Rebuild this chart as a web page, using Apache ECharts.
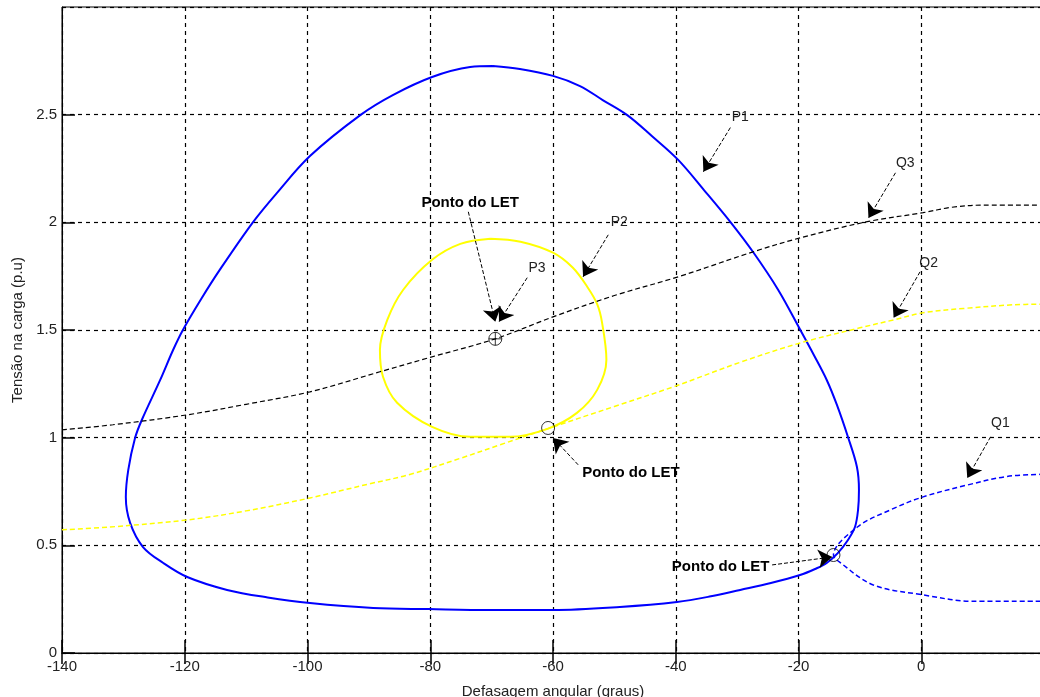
<!DOCTYPE html>
<html>
<head>
<meta charset="utf-8">
<script src="https://cdn.jsdelivr.net/npm/echarts@6/dist/echarts.min.js"></script>
<style>
  html, body { margin: 0; padding: 0; background: #fff; }
  #chart { width: 1040px; height: 697px; }
</style>
</head>
<body>
<div id="chart"></div>
<script>
// Axis ranges and ticks
const xMin = -140, xMax = 20, xStep = 20;
const yMin = 0, yMax = 3, yStep = 0.5;

// P-curves (closed loops): [angle (graus), tensão (p.u)]
const curveP1 = [
  [-69.8, 2.726], [-65.4, 2.712], [-60.0, 2.680], [-55.6, 2.633], [-51.9, 2.568], [-47.9, 2.498],
  [-43.9, 2.401], [-39.6, 2.290], [-35.4, 2.150], [-31.05, 2.000], [-27.4, 1.862], [-23.3, 1.686],
  [-19.7, 1.500], [-17.5, 1.384], [-15.4, 1.268], [-13.74, 1.152], [-11.94, 1.003],
  [-10.48, 0.864], [-10.15, 0.757], [-10.3, 0.664], [-10.8, 0.585], [-11.94, 0.525], [-13.6, 0.464],
  [-15.4, 0.418], [-17.3, 0.390], [-19.75, 0.362], [-24.5, 0.325], [-29.5, 0.293], [-34.5, 0.262],
  [-39.8, 0.237], [-49.1, 0.214], [-60.0, 0.200], [-70.3, 0.200], [-80.2, 0.204], [-89.3, 0.209],
  [-99.6, 0.232], [-106.5, 0.258], [-113.1, 0.293], [-119.6, 0.353], [-123.5, 0.418], [-126.8, 0.492],
  [-128.9, 0.604], [-129.6, 0.724], [-129.2, 0.850], [-128.1, 0.998], [-127.0, 1.082], [-124.0, 1.268],
  [-121.9, 1.407], [-120.3, 1.500], [-117.3, 1.645], [-114.3, 1.779], [-108.9, 2.000], [-105.0, 2.136],
  [-99.6, 2.308], [-91.4, 2.498], [-86.1, 2.591], [-79.7, 2.675], [-73.5, 2.721], [-69.8, 2.726]
];
const curveP2 = [
  [-70.2, 1.924], [-65.3, 1.91], [-60, 1.859], [-56.8, 1.79], [-54.4, 1.70], [-52.8, 1.62],
  [-52.0, 1.533], [-51.3, 1.362], [-52.8, 1.222], [-56.1, 1.115], [-60.9, 1.041], [-67.0, 1.004],
  [-73.5, 1.004], [-79.7, 1.05], [-85.4, 1.162], [-87.7, 1.283], [-88.2, 1.408], [-87.0, 1.547],
  [-84.4, 1.687], [-79.7, 1.826], [-75.1, 1.90], [-70.2, 1.924]
];

// Q-curves (dashed)
const curveQ1 = [
  [20, 0.83], [14, 0.82], [7.5, 0.78], [0.3, 0.725], [-5, 0.665], [-10.4, 0.585],
  [-14.3, 0.455], [-13.2, 0.42], [-7.8, 0.316], [0.3, 0.27], [8.5, 0.24], [20, 0.24]
];
const curveQ2 = [
  [-140, 0.572], [-132.2, 0.585], [-119.6, 0.618], [-110, 0.66], [-99.6, 0.72], [-90, 0.785],
  [-83.6, 0.827], [-75, 0.905], [-68.6, 0.967], [-60, 1.05], [-50, 1.145], [-40, 1.24],
  [-29.5, 1.35], [-19.7, 1.44], [-10, 1.51], [-4.5, 1.547], [0.3, 1.58], [6.9, 1.60],
  [15, 1.617], [20, 1.62]
];
const curveQ3 = [
  [-140, 1.036], [-131.7, 1.06], [-119.6, 1.106], [-110, 1.155], [-99.6, 1.213], [-88.2, 1.306],
  [-80, 1.373], [-69.4, 1.459], [-60, 1.561], [-50, 1.66], [-39.6, 1.747], [-27.4, 1.863],
  [-19.7, 1.928], [-8.8, 2.003], [0.3, 2.045], [5, 2.07], [10.1, 2.08], [20, 2.08]
];

// LET operating points
const letPoints = [[-60.8, 1.045], [-14.3, 0.455]];
const letCrossPoint = [[-69.4, 1.459]];

// Annotations: text, text position, arrow start, arrow end
const noteTexts = ['Ponto do LET', 'P3', 'P2', 'Ponto do LET', 'P1', 'Q3', 'Q2', 'Q1', 'Ponto do LET'];
const noteBold = [true, false, false, true, false, false, false, false, true];
const notePos = [
  [-73.5, 2.09], [-62.6, 1.789], [-49.2, 2.003], [-47.3, 0.836], [-29.5, 2.49],
  [-2.6, 2.277], [1.2, 1.812], [12.9, 1.069], [-32.7, 0.40]
];
const arrowFrom = [
  [-73.8, 2.049], [-64.2, 1.743], [-51.0, 1.942], [-55.9, 0.874], [-31.1, 2.44],
  [-4.2, 2.23], [-0.2, 1.77], [11.3, 1.004], [-24.3, 0.409]
];
const arrowTo = [
  [-69.4, 1.538], [-68.8, 1.538], [-55.1, 1.747], [-60.0, 0.999], [-35.5, 2.235],
  [-8.6, 2.02], [-4.5, 1.557], [7.5, 0.813], [-14.5, 0.446]
];

const FONT = 'Liberation Sans, Arial, sans-serif';

const chart = echarts.init(document.getElementById('chart'), null, { renderer: 'canvas' });

function curve(data, color, width, dashed) {
  return {
    type: 'line',
    data: data,
    showSymbol: false,
    smooth: 0.35,
    silent: true,
    lineStyle: { color: color, width: width, type: dashed ? [5, 3] : 'solid' },
    z: 3
  };
}

const arrowData = arrowFrom.map((p, i) => ({ coords: [p, arrowTo[i]] }));
const noteData = notePos.map((p, i) => ({
  value: p,
  label: {
    formatter: noteTexts[i],
    fontWeight: noteBold[i] ? 'bold' : 'normal',
    fontSize: noteBold[i] ? 15 : 14,
    color: noteBold[i] ? '#000' : '#222'
  }
}));

const option = {
  animation: false,
  backgroundColor: '#fff',
  grid: {
    left: 62, right: -4, top: 7, bottom: 44,
    outerBoundsMode: 'none',
    containLabel: false,
    show: true, borderColor: '#000', borderWidth: 1
  },
  xAxis: [{
    type: 'value', min: xMin, max: xMax, interval: xStep,
    name: 'Defasagem angular (graus)', nameLocation: 'middle', nameGap: 31,
    nameTextStyle: { fontFamily: FONT, fontSize: 15, color: '#222' },
    axisLine: { show: true, onZero: false, lineStyle: { color: '#000', width: 1 } },
    axisTick: { show: true, inside: true, length: 13, lineStyle: { color: '#000', width: 1.5 } },
    axisLabel: { showMaxLabel: false, fontFamily: FONT, fontSize: 15, color: '#222', margin: 6 },
    splitLine: { show: true, lineStyle: { color: '#000', type: [4, 4], width: 1.2 } }
  }, {
    type: 'value', min: xMin, max: xMax, interval: xStep, position: 'top',
    axisLine: { show: true, lineStyle: { color: '#000', width: 1 } },
    axisTick: { show: true, inside: true, length: 11, lineStyle: { color: '#000', width: 1.5 } },
    axisLabel: { show: false },
    splitLine: { show: false }
  }],
  yAxis: {
    type: 'value', min: yMin, max: yMax, interval: yStep,
    name: 'Tensão na carga (p.u)', nameLocation: 'middle', nameGap: 36,
    nameTextStyle: { fontFamily: FONT, fontSize: 15, color: '#222' },
    axisLine: { show: true, onZero: false, lineStyle: { color: '#000', width: 1 } },
    axisTick: { show: true, inside: true, length: 13, lineStyle: { color: '#000', width: 1.5 } },
    axisLabel: { showMaxLabel: false, fontFamily: FONT, fontSize: 15, color: '#222', margin: 5 },
    splitLine: { show: true, lineStyle: { color: '#000', type: [4, 4], width: 1.2 } }
  },
  series: [
    curve(curveP1, '#0000ff', 2, false),
    curve(curveP2, '#ffff00', 2, false),
    curve(curveQ1, '#0000ff', 1.5, true),
    curve(curveQ2, '#ffff00', 1.5, true),
    curve(curveQ3, '#000000', 1.2, true),
    {
      type: 'scatter',
      data: letPoints,
      symbol: 'circle',
      symbolSize: 13,
      silent: true,
      itemStyle: { color: 'rgba(0,0,0,0)', borderColor: '#000', borderWidth: 1 },
      z: 5
    },
    {
      type: 'scatter',
      data: letCrossPoint,
      symbol: 'path://M10,0A10,10,0,1,1,10,20A10,10,0,1,1,10,0ZM10,0L10,20M0,10L20,10',
      symbolSize: 13,
      symbolKeepAspect: true,
      silent: true,
      itemStyle: { color: 'none', borderColor: '#000', borderWidth: 1 },
      z: 5
    },
    {
      type: 'lines',
      coordinateSystem: 'cartesian2d',
      data: arrowData,
      symbol: ['none', 'arrow'],
      symbolSize: 14,
      silent: true,
      lineStyle: { color: '#000', width: 1, type: [4, 2], opacity: 1 },
      z: 6
    },
    {
      type: 'scatter',
      data: noteData,
      symbolSize: 1,
      silent: true,
      itemStyle: { color: 'rgba(0,0,0,0)', opacity: 1 },
      label: {
        show: true, position: 'inside', fontFamily: FONT,
        color: '#000', opacity: 1, textBorderWidth: 0
      },
      z: 7
    }
  ]
};

chart.setOption(option);
</script>
</body>
</html>
